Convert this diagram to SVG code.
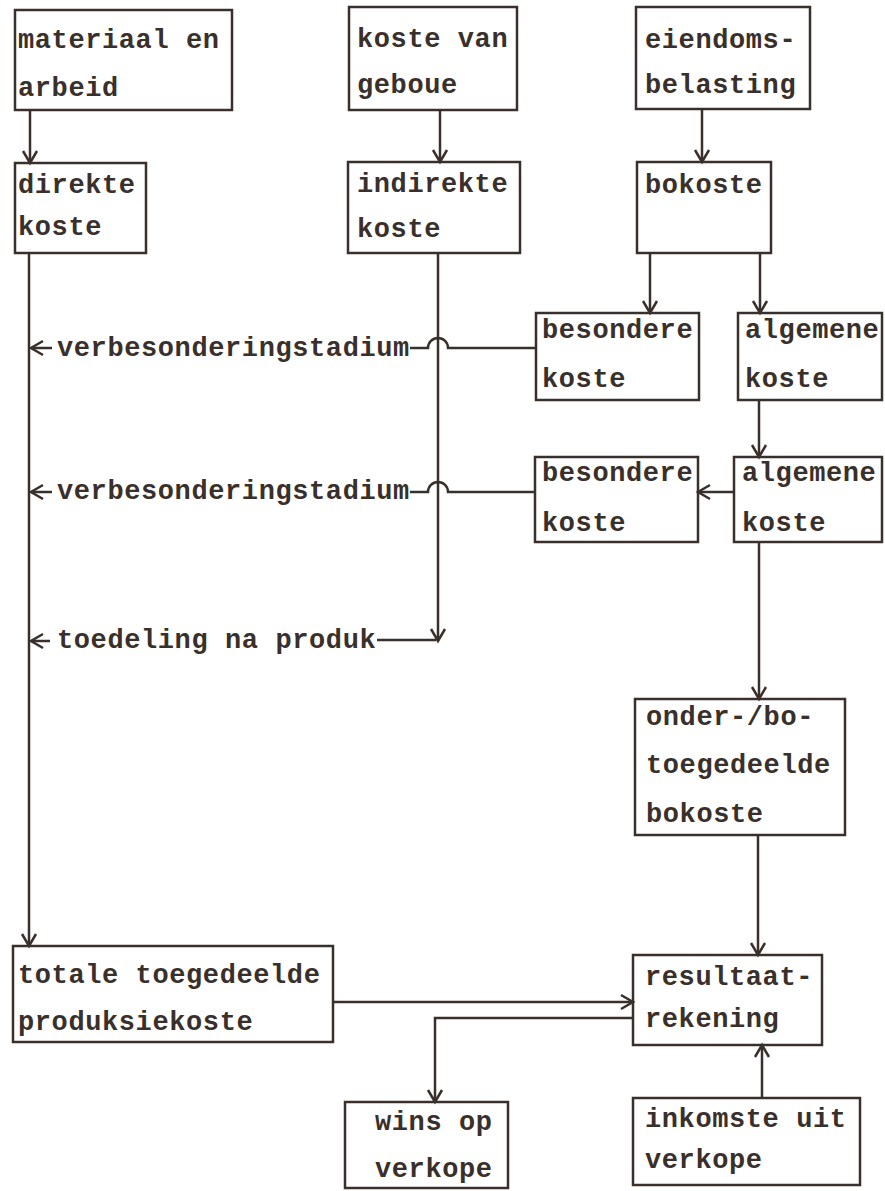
<svg xmlns="http://www.w3.org/2000/svg" width="885" height="1191" viewBox="0 0 885 1191">
<style>
.box{fill:none;stroke:#3a302b;stroke-width:2.5}
.t{font-family:"Liberation Mono","DejaVu Sans Mono",monospace;font-weight:bold;font-size:27px;letter-spacing:0.6px;fill:#3a302b}
.c{fill:none;stroke:#3a302b;stroke-width:2.5}
.a{marker-end:url(#arr)}
</style>
<defs>
<marker id="arr" markerUnits="userSpaceOnUse" markerWidth="18" markerHeight="18" viewBox="0 0 18 18" refX="14" refY="9" orient="auto">
<path d="M2,2 L14,9 L2,16" fill="none" stroke="#3a302b" stroke-width="2.5"/>
</marker>
</defs>
<rect width="885" height="1191" fill="#fff"/>
<g id="n1"><rect class="box" x="15" y="10" width="217" height="100"/><text class="t" x="18" y="48">materiaal en</text><text class="t" x="18" y="96">arbeid</text></g>
<g id="n2"><rect class="box" x="15" y="163" width="131" height="90"/><text class="t" x="18" y="193">direkte</text><text class="t" x="18" y="235">koste</text></g>
<g id="n3"><rect class="box" x="349" y="7" width="168" height="103"/><text class="t" x="357" y="47">koste van</text><text class="t" x="357" y="93">geboue</text></g>
<g id="n4"><rect class="box" x="348" y="162" width="172" height="91"/><text class="t" x="357" y="192">indirekte</text><text class="t" x="357" y="237">koste</text></g>
<g id="n5"><rect class="box" x="636" y="7" width="174" height="102"/><text class="t" x="645" y="48">eiendoms-</text><text class="t" x="645" y="93">belasting</text></g>
<g id="n6"><rect class="box" x="637" y="162" width="134" height="91"/><text class="t" x="645" y="193">bokoste</text></g>
<g id="n7"><rect class="box" x="536" y="313" width="163" height="87"/><text class="t" x="542" y="338">besondere</text><text class="t" x="542" y="387">koste</text></g>
<g id="n8"><rect class="box" x="738" y="313" width="144" height="87"/><text class="t" x="745" y="338">algemene</text><text class="t" x="745" y="387">koste</text></g>
<g id="n9"><rect class="box" x="535" y="457" width="163" height="85"/><text class="t" x="542" y="481">besondere</text><text class="t" x="542" y="531">koste</text></g>
<g id="n10"><rect class="box" x="734" y="457" width="148" height="85"/><text class="t" x="742" y="481">algemene</text><text class="t" x="742" y="531">koste</text></g>
<g id="n11"><rect class="box" x="635" y="699" width="210" height="136"/><text class="t" x="646" y="725">onder-/bo-</text><text class="t" x="646" y="773">toegedeelde</text><text class="t" x="646" y="822">bokoste</text></g>
<g id="n12"><rect class="box" x="13" y="946" width="320" height="96"/><text class="t" x="18" y="983">totale toegedeelde</text><text class="t" x="18" y="1030">produksiekoste</text></g>
<g id="n13"><rect class="box" x="633" y="955" width="189" height="90"/><text class="t" x="645" y="985">resultaat-</text><text class="t" x="645" y="1027">rekening</text></g>
<g id="n14"><rect class="box" x="345" y="1102" width="163" height="86"/><text class="t" x="375" y="1130">wins op</text><text class="t" x="375" y="1177">verkope</text></g>
<g id="n15"><rect class="box" x="633" y="1098" width="227" height="87"/><text class="t" x="645" y="1127">inkomste uit</text><text class="t" x="645" y="1168">verkope</text></g>
<g id="labels">
<text class="t" x="57" y="356">verbesonderingstadium</text>
<text class="t" x="57" y="499">verbesonderingstadium</text>
<text class="t" x="57" y="648">toedeling na produk</text>
</g>
<g id="connectors">
<path class="c a" d="M30,110 V163"/>
<path class="c a" d="M440,110 V162"/>
<path class="c a" d="M702,109 V162"/>
<path class="c a" d="M650,253 V313"/>
<path class="c a" d="M760,253 V313"/>
<path class="c a" d="M759,400 V457"/>
<path class="c a" d="M734,492 H698"/>
<path class="c" d="M536,348 H448 A10,10 0 0 0 428,348 H410"/>
<path class="c a" d="M52,348 H31"/>
<path class="c" d="M535,492 H448 A10,10 0 0 0 428,492 H410"/>
<path class="c a" d="M52,492 H31"/>
<path class="c a" d="M438,253 V641"/>
<path class="c" d="M377,640 H436"/>
<path class="c a" d="M50,641 H31"/>
<path class="c a" d="M29,253 V946"/>
<path class="c a" d="M333,1002 H633"/>
<path class="c a" d="M633,1018 H435 V1102"/>
<path class="c a" d="M759,542 V699"/>
<path class="c a" d="M758,835 V955"/>
<path class="c a" d="M762,1098 V1045"/>
</g>
</svg>
